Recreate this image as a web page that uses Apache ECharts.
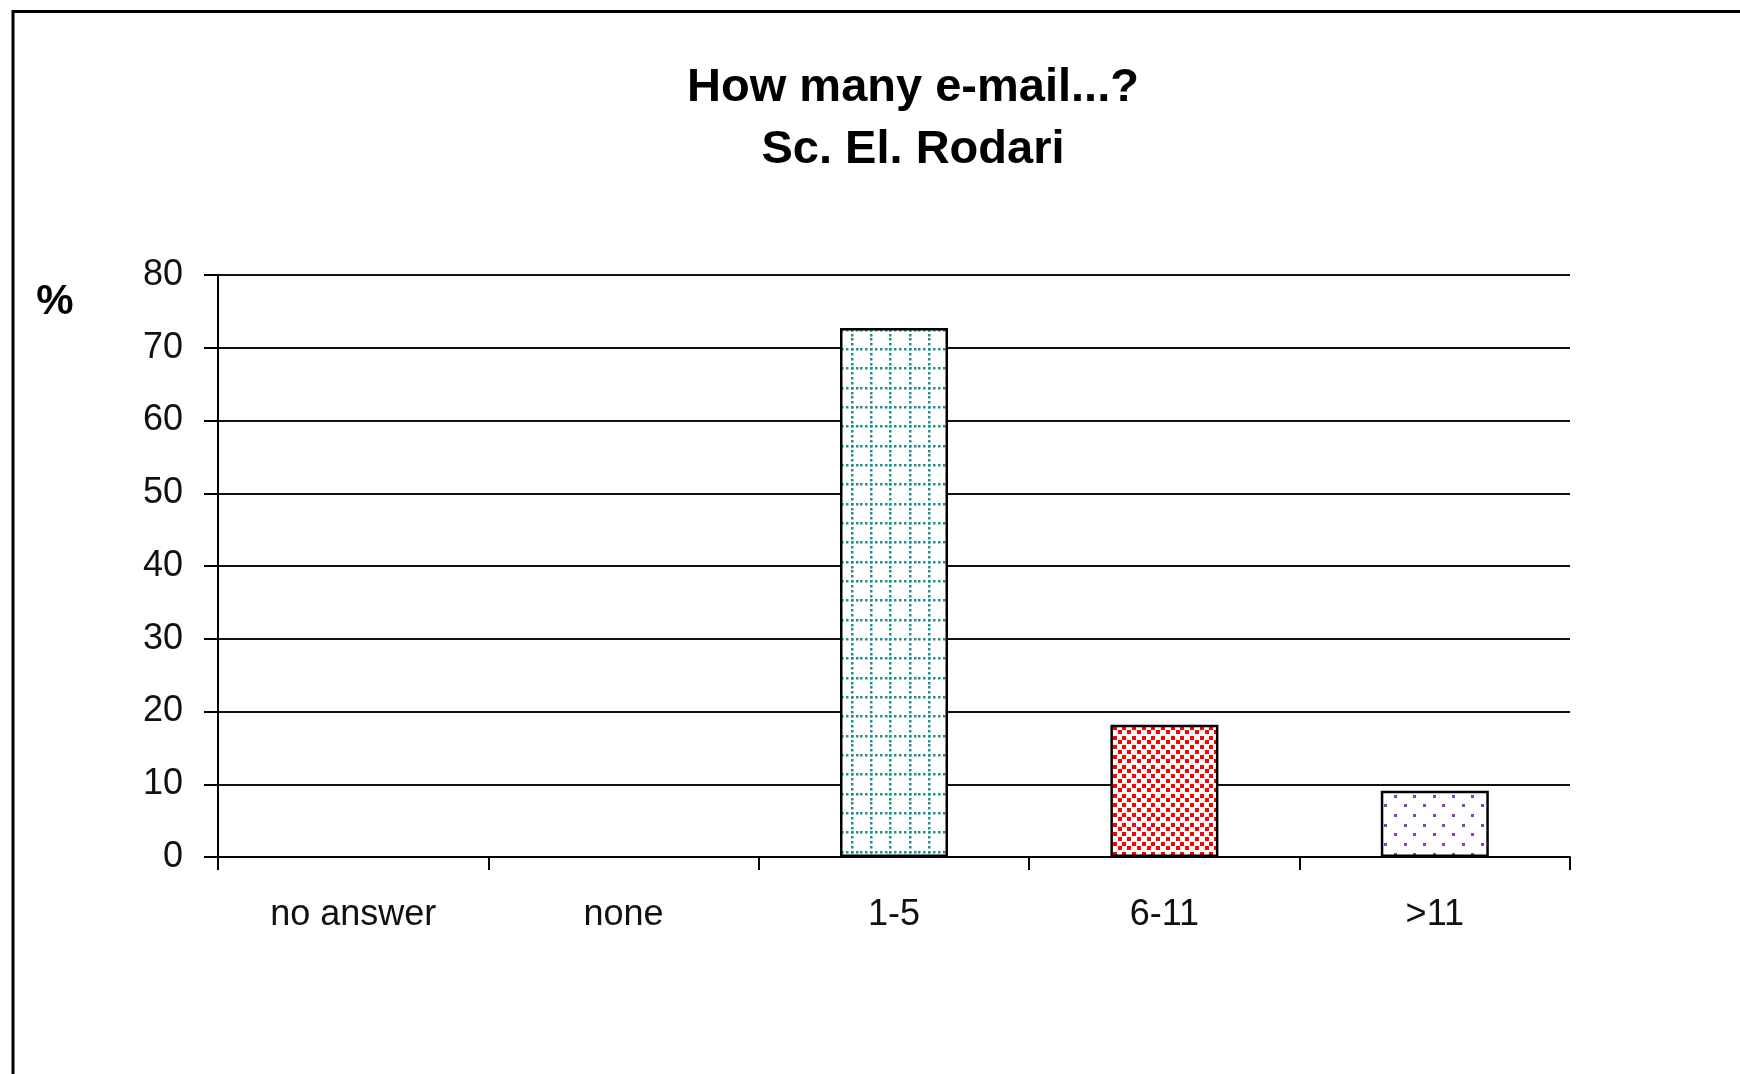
<!DOCTYPE html>
<html>
<head>
<meta charset="utf-8">
<script src="https://cdn.jsdelivr.net/npm/echarts@6/dist/echarts.min.js"></script>
<style>
html,body{margin:0;padding:0;background:#fff;}
#chart{width:1740px;height:1074px;}
</style>
</head>
<body>
<div id="chart"></div>
<script>
// ---- data ----
const categories = ['no answer', 'none', '1-5', '6-11', '>11'];
const values = [0, 0, 72.73, 18.18, 9.09];
const yTicks = [0, 10, 20, 30, 40, 50, 60, 70, 80];
const titleLines = ['How many e-mail...?', 'Sc. El. Rodari'];
const yUnit = '%';

// ---- patterns ----
function mk(size, draw) {
  const c = document.createElement('canvas');
  c.width = size; c.height = size;
  const g = c.getContext('2d');
  g.fillStyle = '#fff';
  g.fillRect(0, 0, size, size);
  draw(g);
  return c;
}
// teal dotted grid
const gridPat = mk(58, g => {
  g.fillStyle = '#1f9090';
  const step = 58 / 12;
  for (let i = 0; i < 12; i++) {
    const p = Math.round(i * step);
    for (let k = 0; k < 3; k++) {
      const q = Math.round(k * 58 / 3);
      g.fillRect(p, q, 2.5, 2.5);
      g.fillRect(q, p, 2.5, 2.5);
    }
  }
});
// red dense dots
const redPat = mk(58, g => {
  g.fillStyle = '#ff0000';
  const s = 58 / 6;
  for (let i = 0; i < 6; i++) {
    for (let j = 0; j < 6; j++) {
      const x = i * s, y = j * s;
      g.fillRect(Math.round(x + 1), Math.round(y + 1), 4, 4);
      g.fillRect(Math.round(x + 1 + s * 0.5), Math.round(y + 1 + s * 0.45), 4, 4);
    }
  }
});
// purple sparse dots
const purplePat = mk(58, g => {
  g.fillStyle = '#8a3fc0';
  const s = 58 / 3;
  for (let i = 0; i < 3; i++) {
    for (let j = 0; j < 3; j++) {
      g.fillRect(Math.round(i * s + 2), Math.round(j * s + 2), 3, 3);
      g.fillRect(Math.round(i * s + 2 + s / 2), Math.round(j * s + 2 + s / 2), 3, 3);
    }
  }
});
const fills = [gridPat, gridPat, gridPat, redPat, purplePat];

const FONT = "'Liberation Sans', Arial, sans-serif";
const chart = echarts.init(document.getElementById('chart'), null, {renderer: 'canvas'});
chart.setOption({
  backgroundColor: '#fff',
  animation: false,
  title: {
    text: titleLines.join('\n'),
    left: 913,
    top: 57,
    textAlign: 'center',
    padding: 0,
    textStyle: {
      fontFamily: FONT, fontSize: 47, fontWeight: 'bold', color: '#000', lineHeight: 62
    }
  },
  graphic: [
    {
      type: 'rect',
      shape: {x: 13, y: 11.5, width: 1800, height: 1200},
      style: {fill: null, stroke: '#000', lineWidth: 3},
      silent: true
    },
    {
      type: 'text',
      x: 55, y: 302,
      style: {
        text: yUnit, fontFamily: FONT, fontSize: 42, fontWeight: 'bold', fill: '#000',
        align: 'center', verticalAlign: 'middle'
      }
    }
  ],
  grid: {left: 218, right: 170, top: 275, bottom: 217, containLabel: false},
  xAxis: {
    type: 'category',
    data: categories,
    boundaryGap: true,
    axisLine: {show: true, lineStyle: {color: '#000', width: 2}},
    axisTick: {show: true, length: 13, lineStyle: {color: '#000', width: 2}},
    axisLabel: {
      margin: 40, fontFamily: FONT, fontSize: 36, color: '#111', interval: 0
    },
    splitLine: {show: false}
  },
  yAxis: {
    type: 'value',
    min: yTicks[0],
    max: yTicks[yTicks.length - 1],
    interval: yTicks[1] - yTicks[0],
    axisLine: {show: true, lineStyle: {color: '#000', width: 2}},
    axisTick: {show: true, length: 14, lineStyle: {color: '#000', width: 2}},
    axisLabel: {margin: 35, fontFamily: FONT, fontSize: 36, color: '#111'},
    splitLine: {show: true, lineStyle: {color: '#111', width: 2}}
  },
  series: [{
    type: 'bar',
    barWidth: 108,
    data: values.map((v, i) => ({
      value: v,
      itemStyle: {
        color: {image: fills[i], repeat: 'repeat'},
        borderColor: '#000',
        borderWidth: v > 0 ? 2.5 : 0
      }
    }))
  }]
});
</script>
</body>
</html>
